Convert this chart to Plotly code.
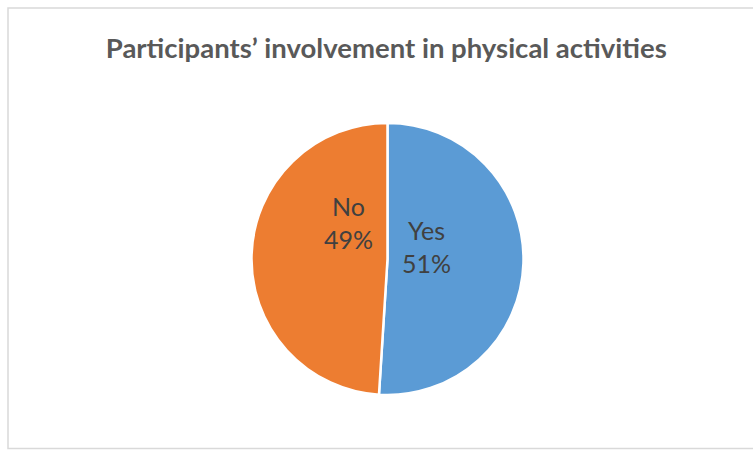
import math
import plotly.graph_objects as go

# Survey answers and their shares
labels = ["Yes", "No"]
shares = [51, 49]
colors = ["#5B9BD5", "#ED7D31"]

W, H = 753, 450
cx, cy, r = 387.5, 259, 136  # pie centre and radius in pixels

fig = go.Figure(
    go.Pie(
        labels=labels,
        values=shares,
        sort=False,
        direction="clockwise",
        rotation=0,
        marker=dict(colors=colors, line=dict(color="white", width=2.5)),
        textinfo="none",
        showlegend=False,
        hoverinfo="label+percent",
        domain=dict(
            x=[(cx - r) / W, (cx + r) / W],
            y=[(H - cy - r) / H, (H - cy + r) / H],
        ),
    )
)

# Data labels: placed near the middle angle of each slice, nudged upward
radial = 0.29  # fraction of radius
lift = [14, 35]  # upward nudge in pixels per label
total = sum(shares)
start = 0.0
annotations = []
for lab, val, up in zip(labels, shares, lift):
    mid = (start + val / 2) / total * 2 * math.pi
    start += val
    px = cx + radial * r * math.sin(mid)
    py = cy - radial * r * math.cos(mid) - up
    pct = round(val / total * 100)
    annotations.append(
        dict(
            x=px / W,
            y=1 - py / H,
            xref="paper",
            yref="paper",
            text=f"{lab}<br>{pct}%",
            showarrow=False,
            xanchor="center",
            yanchor="middle",
            align="center",
            font=dict(family="Lato", size=25, color="#404040"),
        )
    )

fig.update_layout(
    width=W,
    height=H,
    margin=dict(l=0, r=0, t=0, b=0),
    paper_bgcolor="white",
    title=dict(
        text="<b>Participants’ involvement in physical activities</b>",
        x=0.513,
        xanchor="center",
        y=1 - 48 / H,
        yanchor="middle",
        font=dict(family="Lato", size=27.5, color="#595959"),
    ),
    annotations=annotations,
    shapes=[
        dict(
            type="rect",
            xref="paper",
            yref="paper",
            x0=8 / W,
            x1=1.02,
            y0=1.5 / H,
            y1=1 - 8 / H,
            line=dict(color="#D9D9D9", width=1.5),
            fillcolor="rgba(0,0,0,0)",
        )
    ],
)

fig.write_html("out.html")
